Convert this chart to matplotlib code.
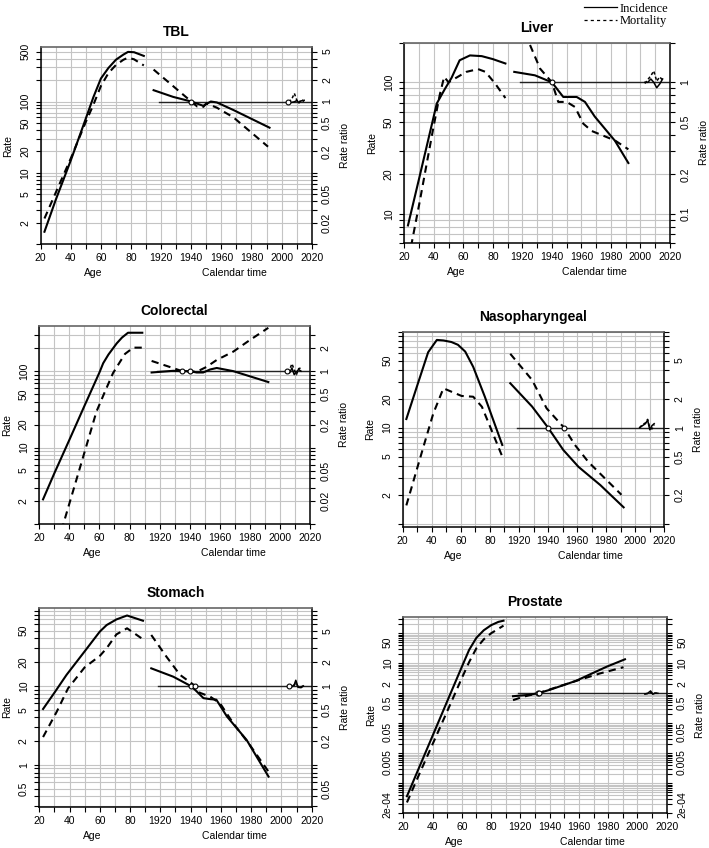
import matplotlib
matplotlib.use("Agg")
import matplotlib.pyplot as plt
from matplotlib.lines import Line2D
from matplotlib.ticker import NullLocator
import numpy as np

plt.rcParams['font.family'] = ['Liberation Sans', 'DejaVu Sans']

CAL_OFFSET = 1820  # calendar time shares the age axis: 1920 sits at 100

# ---- TBL ----
tbl_age = [22.5, 30, 40, 50, 55, 60, 65, 70, 75, 78, 82, 88.5]
tbl_age_inc = [1.5, 4.2, 15, 58, 115, 210, 295, 385, 455, 495, 490, 435]
tbl_age_mort = [2.3, 5.3, 16, 52, 90, 165, 250, 325, 385, 410, 390, 320]
tbl_coh_yr_inc = [1915, 1928, 1940, 1948, 1953, 1957, 1968, 1992]
tbl_coh_inc = [1.44, 1.16, 1.0, 0.87, 1.0, 0.97, 0.76, 0.43]
tbl_coh_yr_mort = [1915, 1928, 1940, 1944, 1948, 1950, 1957, 1968, 1991]
tbl_coh_mort = [2.8, 1.64, 1.0, 0.85, 0.84, 0.94, 0.82, 0.6, 0.233]
tbl_per_yr = [2004.5, 2006.5, 2008.5, 2010, 2011.5, 2013, 2015]
tbl_per_inc = [1.0, 0.97, 0.99, 1.03, 0.97, 1.02, 1.04]
tbl_per_mort = [1.0, 1.05, 1.3, 1.06, 0.95, 1.07, 1.0]
tbl_refs = [1940, 2004.5]

# ---- Liver ----
liver_age_i = [22.5, 30, 35, 42, 47.5, 52, 57.5, 64.5, 72.5, 80, 88.5]
liver_age_inc = [8.2, 18.5, 32, 69, 89, 108, 147, 160, 158, 150, 139]
liver_age_m = [22.5, 25, 30.5, 35, 39.5, 44, 47, 50, 55, 62, 70, 75, 81.5, 88.5]
liver_age_mort = [4.6, 6.0, 12.5, 23.5, 44, 80, 110, 100, 108, 120, 126, 120, 98, 76]
liver_coh_yr_inc = [1914.5, 1928.5, 1940, 1947.7, 1956.8, 1962.4, 1969, 1982.7, 1991.8]
liver_coh_inc = [1.2, 1.13, 1.0, 0.774, 0.774, 0.71, 0.55, 0.36, 0.244]
liver_coh_yr_mort = [1915, 1924.5, 1932, 1940, 1944.3, 1950, 1955.6, 1961.3, 1967, 1982.7, 1991.8]
liver_coh_mort = [3.5, 2.0, 1.27, 1.0, 0.71, 0.71, 0.65, 0.485, 0.427, 0.362, 0.31]
liver_per_yr = [2003, 2005, 2007, 2009, 2011, 2013, 2015]
liver_per_inc = [1.0, 1.0, 1.06, 1.0, 0.91, 0.97, 1.06]
liver_per_mort = [0.98, 1.05, 1.12, 1.22, 1.02, 1.1, 1.04]
liver_refs = [1940]

# ---- Colorectal ----
crc_age_i = [22.5, 30, 40, 50, 60, 62.5, 66, 71.5, 75, 79, 88.5]
crc_age_inc = [2.1, 4.6, 12.6, 35, 96, 127, 165, 231, 275, 318, 318]
crc_age_m = [30, 36, 51, 58, 63.5, 69, 73, 77, 82.5, 88.5]
crc_age_mort = [0.4, 1.0, 10, 29.5, 53, 94, 126, 168, 203, 203]
crc_coh_yr_inc = [1914.7, 1929, 1935, 1940, 1944.6, 1949, 1953.5, 1958, 1969, 1992.3]
crc_coh_inc = [0.96, 1.01, 1.0, 1.0, 0.96, 0.96, 1.05, 1.1, 1.0, 0.72]
crc_coh_yr_mort = [1914.7, 1924.7, 1935, 1940, 1945, 1951, 1958, 1969, 1980, 1992.3]
crc_coh_mort = [1.36, 1.17, 1.0, 0.98, 0.99, 1.13, 1.4, 1.8, 2.55, 3.69]
crc_per_yr = [2004.5, 2006.5, 2008, 2009.5, 2011, 2012.5, 2014]
crc_per_inc = [1.0, 0.95, 1.1, 0.9, 0.98, 1.05, 1.0]
crc_per_mort = [1.0, 1.05, 1.25, 1.05, 0.9, 1.08, 1.1]
crc_refs = [1935, 1940, 2004.5]

# ---- Nasopharyngeal ----
naso_age_i = [22.5, 30, 37.5, 43.5, 48, 53.5, 58, 63, 68.5, 76.5, 88.5]
naso_age_inc = [12.3, 27.5, 61, 82, 81, 78, 73, 62, 43, 21, 6.6]
naso_age_m = [22.5, 30, 35, 41, 48, 53.5, 60.5, 68.5, 74.5, 81, 88.5]
naso_age_mort = [1.55, 3.8, 6.9, 14, 25.7, 23.7, 21.4, 21, 16.5, 9.5, 5.0]
naso_coh_yr_inc = [1914, 1929, 1940, 1950.5, 1961, 1976, 1992]
naso_coh_inc = [2.9, 1.66, 1.0, 0.585, 0.39, 0.252, 0.148]
naso_coh_yr_mort = [1914, 1929, 1939, 1951, 1958.5, 1967.7, 1990.5]
naso_coh_mort = [5.88, 3.14, 1.59, 1.0, 0.66, 0.44, 0.2]
naso_per_yr = [2003, 2005, 2007, 2008.5, 2010, 2011.5, 2013]
naso_per_inc = [1.0, 1.05, 1.1, 1.2, 0.95, 1.05, 1.1]
naso_per_mort = [1.0, 1.08, 1.12, 1.22, 1.0, 0.97, 1.08]
naso_refs = [1940, 1951]

# ---- Stomach ----
stom_age_i = [22.5, 30, 38, 49, 60, 64.5, 71, 78, 88.5]
stom_age_inc = [5.1, 8.2, 13.8, 25.9, 48.8, 59, 69.6, 78, 67]
stom_age_m = [22.5, 31.5, 39, 50, 60, 64.5, 71, 78, 88.5]
stom_age_mort = [2.25, 4.7, 9.3, 17.2, 24, 30, 45, 53.7, 39]
stom_coh_yr_inc = [1914, 1928.5, 1940, 1943, 1948.5, 1953, 1957, 1964, 1977, 1991.5]
stom_coh_inc = [1.67, 1.31, 1.0, 0.89, 0.7, 0.68, 0.67, 0.41, 0.207, 0.071]
stom_coh_yr_mort = [1914, 1924, 1933, 1943, 1946, 1953, 1959.5, 1968, 1979, 1991.5]
stom_coh_mort = [4.42, 2.35, 1.38, 1.0, 0.82, 0.73, 0.6, 0.34, 0.18, 0.082]
stom_per_yr = [2005, 2007, 2008.5, 2009.5, 2011, 2013, 2014.5]
stom_per_inc = [1.0, 0.98, 1.04, 1.18, 0.96, 0.95, 1.0]
stom_per_mort = [1.0, 0.97, 1.02, 1.1, 0.98, 0.96, 1.02]
stom_refs = [1940, 1943, 2005]

# ---- Prostate ----
pros_age = [22.5, 30, 40, 50, 60, 65, 70, 75, 80, 85, 88.5]
pros_age_inc = [3.7e-4, 2.7e-3, 0.038, 0.54, 7.6, 28, 71, 126, 186, 240, 263]
pros_age_mort = [2.3e-4, 1.6e-3, 0.02, 0.25, 3.2, 11, 32, 63, 100, 141, 180]
pros_coh_yr_inc = [1915, 1925, 1932, 1940, 1958, 1979, 1991.5]
pros_coh_inc = [0.8, 0.88, 1.0, 1.3, 2.6, 7.7, 13.6]
pros_coh_yr_mort = [1915, 1922, 1932, 1956, 1974.5, 1990.5]
pros_coh_mort = [0.59, 0.77, 1.0, 2.4, 4.6, 7.4]
pros_per_yr = [2005, 2007, 2009, 2010.5, 2012, 2014]
pros_per_inc = [0.95, 1.0, 1.2, 0.93, 1.0, 1.0]
pros_per_mort = [0.95, 0.98, 1.1, 0.95, 1.02, 1.0]
pros_refs = [1932, 1933]

panels = [
    dict(title='TBL', pos=[0.0574, 0.7119, 0.3822, 0.2330], ylim=(1, 585), factor=100,
         left=[2, 5, 10, 20, 50, 100, 500], right=[0.02, 0.05, 0.2, 0.5, 1, 2, 5],
         age_i=tbl_age, inc=tbl_age_inc, age_m=tbl_age, mort=tbl_age_mort,
         ci_yr=tbl_coh_yr_inc, ci=tbl_coh_inc, cm_yr=tbl_coh_yr_mort, cm=tbl_coh_mort,
         p_yr=tbl_per_yr, p_inc=tbl_per_inc, p_mort=tbl_per_mort, refs=tbl_refs),
    dict(title='Liver', pos=[0.5702, 0.7131, 0.3748, 0.2366], ylim=(6, 200), factor=100,
         left=[10, 20, 50, 100], right=[0.1, 0.2, 0.5, 1],
         age_i=liver_age_i, inc=liver_age_inc, age_m=liver_age_m, mort=liver_age_mort,
         ci_yr=liver_coh_yr_inc, ci=liver_coh_inc, cm_yr=liver_coh_yr_mort, cm=liver_coh_mort,
         p_yr=liver_per_yr, p_inc=liver_per_inc, p_mort=liver_per_mort, refs=liver_refs),
    dict(title='Colorectal', pos=[0.0554, 0.3821, 0.3818, 0.2335], ylim=(1.0, 390), factor=100,
         left=[2, 5, 10, 20, 50, 100], right=[0.02, 0.05, 0.2, 0.5, 1, 2],
         age_i=crc_age_i, inc=crc_age_inc, age_m=crc_age_m, mort=crc_age_mort,
         ci_yr=crc_coh_yr_inc, ci=crc_coh_inc, cm_yr=crc_coh_yr_mort, cm=crc_coh_mort,
         p_yr=crc_per_yr, p_inc=crc_per_inc, p_mort=crc_per_mort, refs=crc_refs),
    dict(title='Nasopharyngeal', pos=[0.5680, 0.3789, 0.3690, 0.2300], ylim=(0.93, 100), factor=10,
         left=[2, 5, 10, 20, 50], right=[0.2, 0.5, 1, 2, 5],
         age_i=naso_age_i, inc=naso_age_inc, age_m=naso_age_m, mort=naso_age_mort,
         ci_yr=naso_coh_yr_inc, ci=naso_coh_inc, cm_yr=naso_coh_yr_mort, cm=naso_coh_mort,
         p_yr=naso_per_yr, p_inc=naso_per_inc, p_mort=naso_per_mort, refs=naso_refs),
    dict(title='Stomach', pos=[0.0554, 0.0480, 0.3842, 0.2354], ylim=(0.29, 98), factor=10,
         left=[0.5, 1, 2, 5, 10, 20, 50], right=[0.05, 0.2, 0.5, 1, 2, 5],
         age_i=stom_age_i, inc=stom_age_inc, age_m=stom_age_m, mort=stom_age_mort,
         ci_yr=stom_coh_yr_inc, ci=stom_coh_inc, cm_yr=stom_coh_yr_mort, cm=stom_coh_mort,
         p_yr=stom_per_yr, p_inc=stom_per_inc, p_mort=stom_per_mort, refs=stom_refs),
    dict(title='Prostate', pos=[0.5688, 0.0409, 0.3715, 0.2311], ylim=(1e-4, 340), factor=1,
         left=[2e-4, 0.005, 0.05, 0.5, 2, 10, 50], right=[2e-4, 0.005, 0.05, 0.5, 2, 10, 50],
         age_i=pros_age, inc=pros_age_inc, age_m=pros_age, mort=pros_age_mort,
         ci_yr=pros_coh_yr_inc, ci=pros_coh_inc, cm_yr=pros_coh_yr_mort, cm=pros_coh_mort,
         p_yr=pros_per_yr, p_inc=pros_per_inc, p_mort=pros_per_mort, refs=pros_refs),
]

GRID = '#c4c4c4'
DASH = (0, (3.5, 2.5))
LW = 1.5


def log_grid(lo, hi):
    vals = []
    for k in range(-5, 4):
        for m in range(1, 10):
            v = m * 10.0 ** k
            if lo * 0.999 <= v <= hi * 1.001:
                vals.append(v)
    return vals


def fmt(v):
    if v < 0.001:
        return f"{v:.0e}"
    return f"{v:g}"


def pick_labels(vals, wanted):
    return [fmt(v) if any(np.isclose(v, w, rtol=1e-6) for w in wanted) else '' for v in vals]


def draw_panel(fig, p):
    ax = fig.add_axes(p['pos'])
    lo, hi = p['ylim']
    f = p['factor']
    ax.set_yscale('log')
    ax.set_xlim(20, 200)
    ax.set_ylim(lo, hi)

    # grid via ticks
    xt = np.arange(20, 201, 10)
    ax.set_xticks(xt)
    xlab = []
    for t in xt:
        if t % 20 == 0 and t <= 80:
            xlab.append(str(t))
        elif t % 20 == 0 and t >= 100:
            xlab.append(str(t + CAL_OFFSET))
        else:
            xlab.append('')
    ax.set_xticklabels(xlab)
    yt = log_grid(lo, hi)
    ax.set_yticks(yt)
    ax.set_yticklabels(pick_labels(yt, p['left']))
    ax.yaxis.set_minor_locator(NullLocator())
    ax.grid(True, which='major', color=GRID, lw=0.8)
    ax.set_axisbelow(True)

    # age effects
    ax.plot(p['age_i'], p['inc'], color='black', lw=LW, solid_joinstyle='round')
    ax.plot(p['age_m'], p['mort'], color='black', lw=LW, linestyle=DASH)

    # reference line at rate ratio 1
    ax.plot([1918.5 - CAL_OFFSET, 200], [f, f], color='#222222', lw=1.0)

    # cohort effects
    ax.plot(np.array(p['ci_yr']) - CAL_OFFSET, np.array(p['ci']) * f, color='black', lw=LW)
    ax.plot(np.array(p['cm_yr']) - CAL_OFFSET, np.array(p['cm']) * f, color='black', lw=LW,
            linestyle=DASH)

    # period effects
    ax.plot(np.array(p['p_yr']) - CAL_OFFSET, np.array(p['p_inc']) * f, color='black', lw=1.1)
    ax.plot(np.array(p['p_yr']) - CAL_OFFSET, np.array(p['p_mort']) * f, color='black', lw=1.1,
            linestyle=(0, (2, 1.5)))

    # reference points
    ax.plot(np.array(p['refs']) - CAL_OFFSET, [f] * len(p['refs']), linestyle='none', marker='o',
            ms=3.5, mfc='white', mec='black', mew=0.8)

    for side in ['left', 'bottom', 'right']:
        ax.spines[side].set_linewidth(1.1)
    ax.spines['top'].set_color('#666666')
    ax.spines['top'].set_linewidth(1.2)

    ax.tick_params(axis='both', labelsize=7.5, length=3.5, width=0.8, direction='out')
    ax.tick_params(axis='y', labelrotation=90, pad=4)
    ax.tick_params(axis='x', pad=3)
    for lab in ax.get_yticklabels():
        lab.set_va('center')

    ax.set_ylabel('Rate', fontsize=7.5, labelpad=5)
    ax.set_title(p['title'], fontsize=10, fontweight='bold', pad=8)

    ax.annotate('Age', xy=(55, 0), xycoords=('data', 'axes fraction'), xytext=(0, -21),
                textcoords='offset points', ha='center', va='center', fontsize=7.5)
    ax.annotate('Calendar time', xy=(149, 0), xycoords=('data', 'axes fraction'),
                xytext=(0, -21), textcoords='offset points', ha='center', va='center',
                fontsize=7.5)

    # rate ratio axis
    ax2 = ax.twinx()
    ax2.set_yscale('log')
    ax2.set_ylim(lo / f, hi / f)
    yt2 = [v / f for v in yt]
    ax2.set_yticks(yt2)
    ax2.set_yticklabels(pick_labels(yt2, p['right']))
    ax2.yaxis.set_minor_locator(NullLocator())
    ax2.tick_params(axis='y', labelsize=7.5, length=3.5, width=0.8, labelrotation=90, pad=4)
    for lab in ax2.get_yticklabels():
        lab.set_va('center')
    for s in ax2.spines.values():
        s.set_visible(False)
    ax2.set_ylabel('Rate ratio', fontsize=7.5, labelpad=6)
    return ax


fig = plt.figure(figsize=(7.09, 8.48), dpi=100)
for p in panels:
    draw_panel(fig, p)

handles = [Line2D([], [], color='black', lw=0.9),
           Line2D([], [], color='black', lw=0.9, linestyle=(0, (2.5, 2.5)))]
fig.legend(handles, ['Incidence', 'Mortality'], loc='upper right', bbox_to_anchor=(0.955, 1.007),
           frameon=False, prop={'family': 'Liberation Serif', 'size': 9}, handlelength=2.6,
           handletextpad=0.25, labelspacing=0.05, borderpad=0.2)

fig.savefig('out.png', dpi=100)
